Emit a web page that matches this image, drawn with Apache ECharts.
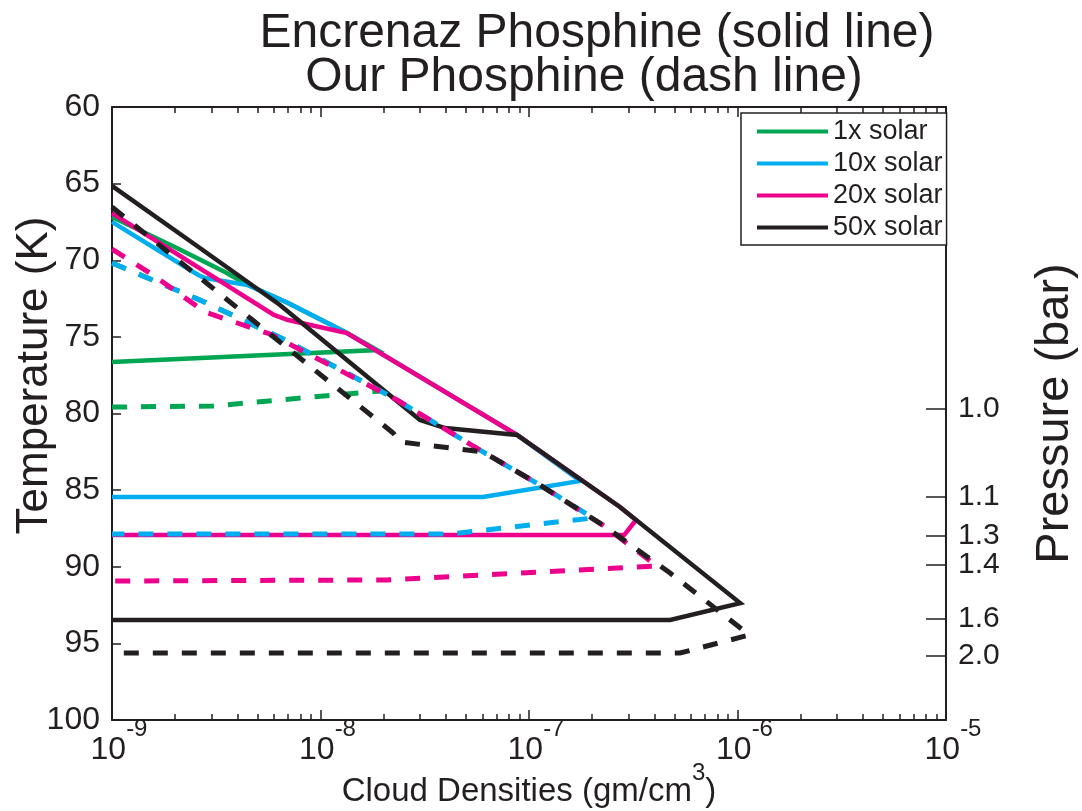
<!DOCTYPE html>
<html>
<head>
<meta charset="utf-8">
<script src="https://cdn.jsdelivr.net/npm/echarts@6/dist/echarts.min.js"></script>
<style>html,body{margin:0;padding:0;background:#fff}#c{width:1082px;height:811px}</style>
</head>
<body>
<div id="c"></div>
<script>
// ---- data: [cloud density (gm/cm^3), temperature (K)] ----
const seriesNames = ['1x solar', '10x solar', '20x solar', '50x solar'];
const seriesColors = ['#00a651', '#00aeef', '#ec008c', '#231f20'];

// Encrenaz phosphine (solid lines)
const encrenaz1x = [[1e-9, 67.18], [2.0e-9, 69.14], [3.48e-9, 70.77], [4.49e-9, 71.62], [6.99e-9, 72.79], [1.34e-8, 74.75], [1.87e-8, 75.86], [1e-9, 76.64]];
const encrenaz10x = [[1e-9, 67.50], [2.59e-9, 70.96], [2.79e-9, 71.16], [4.49e-9, 71.62], [6.99e-9, 72.79], [1.34e-8, 74.75], [8.76e-8, 81.40], [1.76e-7, 84.40], [6.02e-8, 85.45], [1e-9, 85.45]];
const encrenaz20x = [[1e-9, 66.92], [5.98e-9, 73.57], [6.99e-9, 73.90], [1.34e-8, 74.75], [8.76e-8, 81.40], [2.73e-7, 86.10], [3.26e-7, 86.95], [2.86e-7, 87.93], [1e-9, 87.93]];
const encrenaz50x = [[1e-9, 65.15], [2.64e-9, 69.20], [6.39e-9, 72.92], [3.0e-8, 80.42], [3.96e-8, 80.95], [8.76e-8, 81.40], [2.73e-7, 86.10], [1.03e-6, 92.37], [4.75e-7, 93.47], [1e-9, 93.47]];

// Our phosphine (dashed lines)
const ours1x = [[1e-9, 70.18], [2.64e-9, 72.59], [6.76e-9, 75.20], [1.93e-8, 78.53], [3.05e-9, 79.51], [1e-9, 79.58]];
const ours10x = [[1e-9, 70.18], [2.64e-9, 72.59], [6.76e-9, 75.20], [2.33e-8, 79.12], [6.02e-8, 82.51], [1.13e-7, 84.67], [2.03e-7, 86.82], [4.18e-8, 87.86], [1e-9, 87.86]];
const ours20x = [[1e-9, 69.27], [1.57e-9, 70.96], [2.79e-9, 73.38], [5.72e-9, 74.81], [2.33e-8, 79.12], [6.02e-8, 82.51], [1.13e-7, 84.67], [2.26e-7, 87.28], [4.11e-7, 89.95], [2.08e-8, 90.86], [1e-9, 90.93]];
const ours50x = [[1e-9, 66.53], [4.59e-9, 73.77], [2.23e-8, 81.27], [2.41e-8, 81.86], [6.02e-8, 82.51], [1.13e-7, 84.67], [2.26e-7, 87.28], [4.75e-7, 90.41], [1.14e-6, 94.45], [5.30e-7, 95.63], [1e-9, 95.63]];

// axes / ticks
const xDecades = [1e-9, 1e-8, 1e-7, 1e-6, 1e-5];
const minorMultipliers = [2, 3, 4, 5, 6, 7, 8, 9];
const tempMin = 60, tempMax = 100, tempStep = 5;
const pressureTemps = [79.7, 85.4, 88.0, 89.9, 93.4, 95.8];
const pressureLabels = ['1.0', '1.1', '1.3', '1.4', '1.6', '2.0'];
const titleLines = ['Encrenaz Phosphine (solid line)', 'Our Phosphine (dash line)'];

// ---- build ----
const FONT = "'Liberation Sans', Arial, Helvetica, sans-serif";
const INK = '#231f20';
const majorExps = xDecades.map(v => Math.log10(v));
const minorExps = [];
for (let i = 0; i < xDecades.length - 1; i++) {
  minorMultipliers.forEach(m => minorExps.push(Math.log10(m * xDecades[i])));
}
const solids = [encrenaz1x, encrenaz10x, encrenaz20x, encrenaz50x];
const dashes = [ours1x, ours10x, ours20x, ours50x];

const series = [];
solids.forEach((d, i) => series.push({
  type: 'line', name: seriesNames[i], data: d, xAxisIndex: 0, yAxisIndex: 0,
  symbol: 'none', showSymbol: false, animation: false, z: 2 + i,
  itemStyle: { color: seriesColors[i] },
  lineStyle: { color: seriesColors[i], width: 4.5, join: 'miter' }
}));
dashes.forEach((d, i) => series.push({
  type: 'line', name: seriesNames[i] + ' (ours)', data: d, xAxisIndex: 0, yAxisIndex: 0,
  symbol: 'none', showSymbol: false, animation: false, z: 6 + i,
  itemStyle: { color: seriesColors[i] },
  lineStyle: { color: seriesColors[i], width: 5, type: [15, 14], join: 'miter' }
}));

const axisLine = { show: true, lineStyle: { color: INK, width: 2 } };
const tickStyle = { color: INK, width: 1.5 };
const titleStyle = { fontSize: 48, lineHeight: 44, fontWeight: 'normal', color: INK, fontFamily: FONT };

const option = {
  animation: false,
  backgroundColor: '#fff',
  textStyle: { fontFamily: FONT, color: INK },
  title: [
    { text: titleLines[0], left: 597, top: 12, textAlign: 'center', padding: 0, textStyle: titleStyle },
    { text: titleLines[1], left: 584, top: 56, textAlign: 'center', padding: 0, textStyle: titleStyle }
  ],
  legend: {
    data: seriesNames, orient: 'vertical', left: 741, top: 113,
    padding: [5, 4, 4, 16], itemGap: 5, itemWidth: 71, itemHeight: 4, icon: 'rect',
    borderColor: INK, borderWidth: 1.5, borderRadius: 0, backgroundColor: '#fff',
    selectedMode: false,
    textStyle: { fontSize: 27, lineHeight: 26, color: INK, fontFamily: FONT }
  },
  grid: { left: 112, right: 136, top: 107, bottom: 91, containLabel: false, outerBoundsMode: 'none' },
  xAxis: [
    {
      type: 'log', logBase: 10, min: xDecades[0], max: xDecades[xDecades.length - 1], position: 'bottom',
      axisLine: axisLine,
      axisTick: { show: true, inside: true, length: 10, lineStyle: tickStyle },
      minorTick: { show: false }, splitLine: { show: false }, minorSplitLine: { show: false },
      axisLabel: {
        margin: -3,
        formatter: v => '{b|10}{s|' + Math.round(Math.log10(v)) + '}',
        rich: {
          b: { fontSize: 32, lineHeight: 66, padding: [0, 0, 0, 14], color: INK, fontFamily: FONT },
          s: { fontSize: 24, lineHeight: 16, verticalAlign: 'top', color: INK, fontFamily: FONT }
        }
      },
      name: '{n|Cloud Densities (gm/cm}{s|3}{n|)}', nameLocation: 'middle', nameGap: 41, nameMoveOverlap: false,
      nameTextStyle: {
        rich: {
          n: { fontSize: 33, lineHeight: 62, color: INK, fontFamily: FONT },
          s: { fontSize: 24, lineHeight: 16, verticalAlign: 'top', color: INK, fontFamily: FONT }
        }
      }
    },
    {
      type: 'value', min: majorExps[0], max: majorExps[majorExps.length - 1], position: 'bottom',
      axisLine: { show: false }, axisLabel: { show: false }, splitLine: { show: false },
      axisTick: { show: true, inside: true, length: 6, customValues: minorExps, lineStyle: tickStyle }
    },
    {
      type: 'value', min: majorExps[0], max: majorExps[majorExps.length - 1], position: 'top',
      axisLine: axisLine, axisLabel: { show: false }, splitLine: { show: false },
      axisTick: { show: true, inside: true, length: 10, customValues: majorExps, lineStyle: tickStyle }
    },
    {
      type: 'value', min: majorExps[0], max: majorExps[majorExps.length - 1], position: 'top',
      axisLine: { show: false }, axisLabel: { show: false }, splitLine: { show: false },
      axisTick: { show: true, inside: true, length: 6, customValues: minorExps, lineStyle: tickStyle }
    }
  ],
  yAxis: [
    {
      type: 'value', min: tempMin, max: tempMax, interval: tempStep, inverse: true, position: 'left',
      axisLine: axisLine,
      axisTick: { show: true, inside: true, length: 9, lineStyle: tickStyle },
      axisLabel: { fontSize: 32, margin: 12, color: INK, fontFamily: FONT },
      splitLine: { show: false },
      name: 'Temperature (K)', nameLocation: 'middle', nameRotate: 90, nameGap: 55, nameMoveOverlap: false,
      nameTextStyle: { fontSize: 44, color: INK, fontFamily: FONT, padding: [0, 0, 0, 76] }
    },
    {
      type: 'value', min: tempMin, max: tempMax, inverse: true, position: 'right',
      axisLine: axisLine,
      axisTick: { show: true, inside: true, length: 20, customValues: pressureTemps, lineStyle: tickStyle },
      axisLabel: {
        customValues: pressureTemps, fontSize: 30, margin: 12, color: INK, fontFamily: FONT,
        formatter: v => {
          let best = 0;
          pressureTemps.forEach((t, i) => { if (Math.abs(t - v) < Math.abs(pressureTemps[best] - v)) best = i; });
          return pressureLabels[best];
        }
      },
      splitLine: { show: false },
      name: 'Pressure (bar)', nameLocation: 'middle', nameRotate: 90, nameGap: 86, nameMoveOverlap: false,
      nameTextStyle: { fontSize: 47, color: INK, fontFamily: FONT }
    }
  ],
  series: series
};

const chart = echarts.init(document.getElementById('c'), null, { renderer: 'canvas' });
chart.setOption(option);
</script>
</body>
</html>
